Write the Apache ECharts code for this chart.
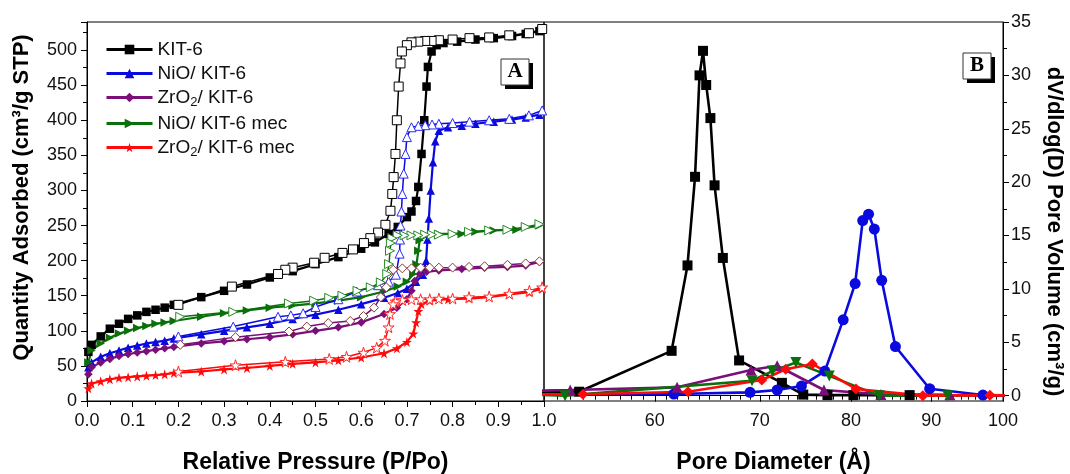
<!DOCTYPE html>
<html>
<head>
<meta charset="utf-8">
<script src="https://cdn.jsdelivr.net/npm/echarts@6.0.0/dist/echarts.min.js"></script>
<style>
  html, body { margin: 0; padding: 0; background: #fff; }
  #chart { width: 1070px; height: 474px; }
</style>
</head>
<body>
<div id="chart"></div>
<script>
// N2 isotherms (panel A): [P/Po, quantity adsorbed]
const kit6Ads = [[0.003,70],[0.01,80],[0.03,92],[0.05,103],[0.07,110],[0.09,117],[0.11,122],[0.13,127],[0.15,130],[0.17,133],[0.19,137],[0.25,148],[0.30,157],[0.35,166],[0.40,176],[0.45,185],[0.50,195],[0.55,205],[0.60,217],[0.63,226],[0.66,238],[0.68,248],[0.70,262],[0.71,270],[0.72,285],[0.725,305],[0.732,352],[0.738,400],[0.743,448],[0.746,476],[0.754,498],[0.765,507],[0.78,510],[0.81,512],[0.85,515],[0.89,517],[0.93,520],[0.96,523],[0.99,527]];
const kit6Des = [[0.996,530],[0.967,524],[0.924,521],[0.88,518],[0.837,517],[0.80,515],[0.77,514],[0.754,513],[0.74,513],[0.725,512],[0.71,511],[0.70,507],[0.689,498],[0.686,481],[0.682,448],[0.678,400],[0.675,352],[0.671,319],[0.668,295],[0.664,271],[0.653,251],[0.637,240],[0.62,232],[0.606,225],[0.582,216],[0.559,211],[0.52,204],[0.497,197],[0.45,190],[0.434,187],[0.418,181],[0.317,163],[0.2,137]];
const nioAds = [[0.003,48],[0.01,55],[0.03,63],[0.05,68],[0.07,72],[0.09,76],[0.11,79],[0.13,82],[0.15,84],[0.17,86],[0.19,89],[0.25,95],[0.30,100],[0.35,105],[0.40,110],[0.45,117],[0.50,123],[0.55,130],[0.60,138],[0.65,147],[0.68,154],[0.70,160],[0.72,170],[0.735,180],[0.742,200],[0.745,230],[0.748,260],[0.752,300],[0.757,340],[0.762,370],[0.77,385],[0.79,390],[0.82,392],[0.85,395],[0.89,398],[0.93,401],[0.96,404],[0.99,408]];
const nioDes = [[0.996,414],[0.967,407],[0.924,402],[0.88,400],[0.837,398],[0.80,396],[0.77,395],[0.755,394],[0.74,393],[0.725,392],[0.71,390],[0.70,376],[0.697,352],[0.693,324],[0.69,295],[0.688,270],[0.686,250],[0.685,230],[0.684,210],[0.676,180],[0.66,170],[0.637,165],[0.59,156],[0.55,145],[0.50,134],[0.473,125],[0.446,122],[0.418,120],[0.32,106],[0.2,92]];
const zroAds = [[0.003,38],[0.01,48],[0.03,55],[0.05,60],[0.07,64],[0.09,67],[0.11,69],[0.13,71],[0.15,73],[0.17,75],[0.19,77],[0.25,82],[0.30,85],[0.35,88],[0.40,91],[0.45,95],[0.50,100],[0.55,105],[0.60,112],[0.65,124],[0.678,133],[0.70,145],[0.71,157],[0.717,171],[0.728,181],[0.743,184],[0.77,186],[0.82,188],[0.87,190],[0.92,191],[0.96,193],[0.99,198]];
const zroDes = [[0.99,199],[0.96,196],[0.92,194],[0.87,192],[0.836,191],[0.80,190],[0.77,190],[0.75,190],[0.73,190],[0.71,189],[0.69,189],[0.67,187],[0.66,181],[0.655,162],[0.643,148],[0.628,133],[0.605,121],[0.576,114],[0.528,111],[0.481,106],[0.442,99],[0.325,91],[0.204,80]];
const nioMecAds = [[0.003,55],[0.01,72],[0.03,82],[0.05,90],[0.07,96],[0.09,100],[0.11,104],[0.13,107],[0.15,110],[0.17,112],[0.19,114],[0.25,120],[0.30,125],[0.35,129],[0.40,133],[0.45,136],[0.50,139],[0.55,143],[0.60,148],[0.65,156],[0.68,163],[0.70,170],[0.714,181],[0.721,195],[0.725,214],[0.728,229],[0.743,236],[0.77,238],[0.82,238],[0.85,241],[0.89,243],[0.94,244],[0.99,250]];
const nioMecDes = [[0.99,252],[0.96,248],[0.92,244],[0.88,243],[0.836,241],[0.80,238],[0.77,237],[0.755,237],[0.74,237],[0.725,236],[0.71,236],[0.695,236],[0.68,236],[0.668,232],[0.665,225],[0.663,214],[0.661,195],[0.657,181],[0.643,169],[0.621,162],[0.592,157],[0.559,150],[0.53,147],[0.497,143],[0.442,139],[0.32,127],[0.204,120]];
const zroMecAds = [[0.003,18],[0.01,25],[0.03,28],[0.05,31],[0.07,33],[0.09,34],[0.11,35],[0.13,36],[0.15,37],[0.17,38],[0.19,40],[0.25,42],[0.30,45],[0.35,47],[0.40,50],[0.45,53],[0.50,55],[0.55,58],[0.60,62],[0.65,68],[0.678,75],[0.70,84],[0.714,96],[0.72,112],[0.725,128],[0.732,138],[0.75,143],[0.79,145],[0.836,146],[0.88,148],[0.924,152],[0.968,155],[0.996,160]];
const zroMecDes = [[0.996,162],[0.968,157],[0.924,153],[0.88,149],[0.836,148],[0.80,146],[0.77,146],[0.75,145],[0.73,145],[0.71,145],[0.69,144],[0.675,142],[0.67,138],[0.663,124],[0.66,105],[0.652,86],[0.634,76],[0.605,69],[0.568,63],[0.53,60],[0.434,56],[0.325,51],[0.2,42]];

// pore size distribution (panel B): diameter (Å) and dV/dlog(D)
const kit6PoreD = [50, 53.7, 61.5, 62.95, 63.65, 64.07, 64.4, 64.7, 65.1, 65.5, 66.3, 67.9, 72.3, 74.6, 77.3, 80.3, 87.2, 101];
const kit6PoreV = [0.35, 0.37, 4.2, 12.2, 20.5, 30.0, 32.3, 29.1, 26.0, 19.7, 12.9, 3.3, 1.2, 0.1, 0.05, 0.05, 0.05, 0.02];
const nioPoreD = [50, 61.7, 69.0, 71.8, 74.4, 77.0, 79.1, 80.5, 81.4, 82.1, 82.8, 83.7, 85.4, 89.8, 97.1, 101];
const nioPoreV = [0.1, 0.15, 0.31, 0.53, 0.9, 2.3, 7.1, 10.5, 16.4, 17.0, 15.6, 10.8, 4.6, 0.65, 0.06, 0.03];
const zroPoreD = [50, 53.0, 62.0, 69.1, 71.8, 76.9, 83.6, 92.5];
const zroPoreV = [0.45, 0.53, 0.78, 2.4, 2.8, 0.53, 0.12, 0.08];
const nioMecPoreD = [50, 52.6, 69.2, 71.3, 73.8, 77.5, 83.4, 92.2];
const nioMecPoreV = [0.1, 0.0, 1.4, 2.3, 3.1, 1.85, 0.0, 0.0];
const zroMecPoreD = [50, 54.0, 63.0, 70.2, 72.7, 75.6, 80.6, 88.9, 98.1, 101];
const zroMecPoreV = [0.12, 0.13, 0.37, 1.47, 2.47, 2.97, 0.63, 0.0, 0.05, 0.02];

const diamLabels = [60, 70, 80, 90, 100];
const diamMinor = Array.from({ length: 50 }, (_, k) => 51 + k);
const poreLabels = [0, 5, 10, 15, 20, 25, 30, 35];
const poreMinor = [2.5, 7.5, 12.5, 17.5, 22.5, 27.5, 32.5];

const sampleNames = ['KIT-6', 'NiO/ KIT-6', 'ZrO2/ KIT-6', 'NiO/ KIT-6 mec', 'ZrO2/ KIT-6 mec'];
const colors = ['#000000', '#0a0adf', '#7a0f7a', '#0b6f0b', '#ff0a0a'];
const hollowEdge = ['#000000', '#2a2aff', '#8a3a3a', '#2a8a2a', '#ff2a2a'];

const FONT = '"Liberation Sans", Arial, sans-serif';
const STAR = 'path://M50,0 L61,35 L98,35 L68,57 L79,91 L50,70 L21,91 L32,57 L2,35 L39,35 Z';
const isoSym = ['rect', 'triangle', 'diamond', 'triangle', STAR];
const isoRot = [0, 0, 0, -90, 0];
const psdSym = ['rect', 'circle', 'triangle', 'triangle', 'diamond'];
const psdRot = [0, 0, 0, 180, 0];

const ads = [kit6Ads, nioAds, zroAds, nioMecAds, zroMecAds];
const des = [kit6Des, nioDes, zroDes, nioMecDes, zroMecDes];
const poreD = [kit6PoreD, nioPoreD, zroPoreD, nioMecPoreD, zroMecPoreD];
const poreV = [kit6PoreV, nioPoreV, zroPoreV, nioMecPoreV, zroMecPoreV];

const lg = Math.log10;
const chart = echarts.init(document.getElementById('chart'));

const series = [];
ads.forEach((d, i) => {
  series.push({
    type: 'line', name: sampleNames[i], xAxisIndex: 0, yAxisIndex: 0, data: d,
    symbol: isoSym[i], symbolRotate: isoRot[i], symbolSize: i === 4 ? 10 : 8.5,
    lineStyle: { color: colors[i], width: 2.2 }, itemStyle: { color: colors[i] }, z: 2
  });
});
des.forEach((d, i) => {
  series.push({
    type: 'line', name: sampleNames[i], xAxisIndex: 0, yAxisIndex: 0, data: d,
    symbol: isoSym[i], symbolRotate: isoRot[i], symbolSize: i === 4 ? 11 : 9,
    lineStyle: { color: colors[i], width: 1.5 },
    itemStyle: { color: '#ffffff', borderColor: hollowEdge[i], borderWidth: 1 }, z: 3
  });
});
poreD.forEach((d, i) => {
  series.push({
    type: 'line', name: 'psd ' + sampleNames[i], xAxisIndex: 1, yAxisIndex: 1,
    data: d.map((x, k) => [lg(x), poreV[i][k]]),
    symbol: psdSym[i], symbolRotate: psdRot[i], symbolSize: i === 0 ? 10 : 11,
    lineStyle: { color: colors[i], width: 2.6 }, itemStyle: { color: colors[i] }, z: 4
  });
});

const tickLabel = { color: '#111', fontSize: 18, fontFamily: FONT };
const nameStyle = { color: '#000', fontSize: 22, fontWeight: 'bold', fontFamily: FONT };

const option = {
  animation: false,
  backgroundColor: '#fff',
  grid: [
    { left: 87, top: 22, width: 457, height: 379, outerBoundsMode: 'none', show: true, borderColor: '#000', borderWidth: 1 },
    { left: 544, top: 22, width: 459, height: 379, outerBoundsMode: 'none', show: true, borderColor: '#000', borderWidth: 1 }
  ],
  legend: {
    data: sampleNames,
    orient: 'vertical', left: 100, top: 35,
    itemWidth: 46, itemHeight: 12, itemGap: 5,
    lineStyle: { width: 3 },
    textStyle: {
      color: '#111', fontSize: 19, fontFamily: FONT,
      rich: { sub: { fontSize: 13, fontFamily: FONT, color: '#111', padding: [10, 0, 0, 0] } }
    },
    formatter: n => n.replace('ZrO2', 'ZrO{sub|2}')
  },
  xAxis: [
    {
      gridIndex: 0, type: 'value', min: 0, max: 1, interval: 0.1,
      axisLine: { lineStyle: { color: '#000', width: 1 } },
      axisTick: { length: 6, lineStyle: { color: '#000' } },
      minorTick: { show: true, splitNumber: 2, length: 4, lineStyle: { color: '#000' } },
      splitLine: { show: false },
      axisLabel: { ...tickLabel, margin: 11, formatter: v => v.toFixed(1) },
      name: 'Relative Pressure (P/Po)', nameLocation: 'middle', nameGap: 50,
      nameTextStyle: { ...nameStyle, fontSize: 23 }
    },
    {
      gridIndex: 1, type: 'value', min: lg(51), max: 2, position: 'bottom',
      axisLine: { lineStyle: { color: '#000', width: 1 } },
      axisTick: { length: 4, customValues: diamMinor.map(lg), lineStyle: { color: '#000' } },
      splitLine: { show: false },
      axisLabel: { ...tickLabel, margin: 11, customValues: diamLabels.map(lg), formatter: v => String(Math.round(Math.pow(10, v))) },
      name: 'Pore Diameter (Å)', nameLocation: 'middle', nameGap: 50,
      nameTextStyle: { ...nameStyle, fontSize: 23 }
    },
    {
      gridIndex: 1, type: 'value', min: lg(51), max: 2, position: 'bottom',
      axisLine: { show: false },
      axisTick: { length: 6, customValues: diamLabels.map(lg), lineStyle: { color: '#000' } },
      splitLine: { show: false },
      axisLabel: { show: false }
    }
  ],
  yAxis: [
    {
      gridIndex: 0, type: 'value', min: 0, max: 540, interval: 50,
      axisLine: { show: true, lineStyle: { color: '#000', width: 1 } },
      axisTick: { show: true, length: 6, lineStyle: { color: '#000' } },
      minorTick: { show: true, splitNumber: 2, length: 4, lineStyle: { color: '#000' } },
      splitLine: { show: false },
      axisLabel: { ...tickLabel, margin: 10, showMaxLabel: false, formatter: v => (v % 50 === 0 ? String(v) : '') },
      name: 'Quantity Adsorbed (cm³/g STP)', nameLocation: 'middle', nameGap: 54,
      nameTextStyle: { ...nameStyle, padding: [0, 0, 0, 28] }
    },
    {
      gridIndex: 1, type: 'value', min: -0.5, max: 35, position: 'right',
      axisLine: { show: true, lineStyle: { color: '#000', width: 1 } },
      axisTick: { show: true, length: 6, customValues: poreLabels, lineStyle: { color: '#000' } },
      splitLine: { show: false },
      axisLabel: { ...tickLabel, margin: 8, customValues: poreLabels },
      name: 'dV/dlog(D) Pore Volume (cm³/g)', nameLocation: 'middle', nameRotate: -90, nameGap: 40,
      nameTextStyle: { ...nameStyle, padding: [0, 0, 0, 40] }
    },
    {
      gridIndex: 1, type: 'value', min: -0.5, max: 35, position: 'right',
      axisLine: { show: false },
      axisTick: { show: true, length: 4, customValues: poreMinor, lineStyle: { color: '#000' } },
      splitLine: { show: false },
      axisLabel: { show: false }
    }
  ],
  series: series,
  graphic: [
    { type: 'rect', shape: { x: 505, y: 63, width: 28, height: 26 }, style: { fill: '#000' }, z: 10 },
    { type: 'rect', shape: { x: 501, y: 59, width: 28, height: 26 }, style: { fill: '#fff', stroke: '#333', lineWidth: 1 }, z: 11 },
    { type: 'text', x: 515, y: 72, z: 12, style: { text: 'A', font: 'bold 21px "Liberation Serif", serif', fill: '#000', align: 'center', verticalAlign: 'middle', textAlign: 'center', textVerticalAlign: 'middle' } },
    { type: 'rect', shape: { x: 967, y: 57, width: 28, height: 26 }, style: { fill: '#000' }, z: 10 },
    { type: 'rect', shape: { x: 963, y: 53, width: 28, height: 26 }, style: { fill: '#fff', stroke: '#333', lineWidth: 1 }, z: 11 },
    { type: 'text', x: 977, y: 66, z: 12, style: { text: 'B', font: 'bold 21px "Liberation Serif", serif', fill: '#000', align: 'center', verticalAlign: 'middle', textAlign: 'center', textVerticalAlign: 'middle' } }
  ]
};

chart.setOption(option);
</script>
</body>
</html>
